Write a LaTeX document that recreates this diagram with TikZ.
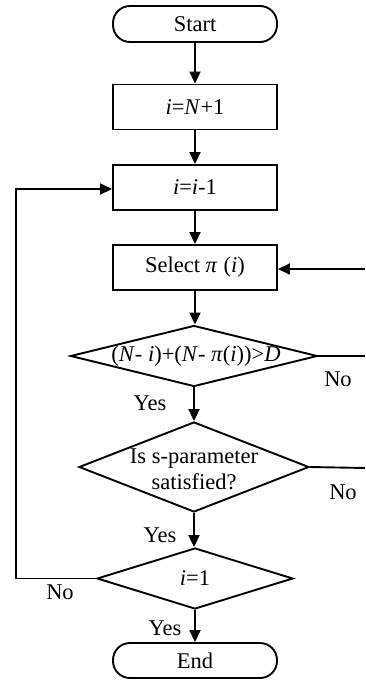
\documentclass[tikz,border=0pt]{standalone}
\usepackage{fontspec}
\setmainfont{Liberation Serif}
\usetikzlibrary{arrows.meta,shapes.geometric}
\tikzset{
  base/.style={draw, line width=1.9pt, font=\fontsize{22.5}{26}\selectfont, inner sep=0pt},
  term/.style={base, rectangle, rounded corners=17pt, minimum width=164pt, minimum height=36pt},
  proc/.style={base, rectangle, minimum width=164pt, minimum height=45pt},
  dec/.style={draw, line width=1.9pt, diamond, inner sep=0pt},
  txt/.style={font=\fontsize{22.5}{26}\selectfont, inner sep=0pt},
  conn/.style={line width=1.9pt},
  arr/.style={conn, -{Triangle[length=12pt,width=11pt]}}
}
\begin{document}
\begin{tikzpicture}[x=1pt,y=-1pt]
\useasboundingbox (0,0) rectangle (365,688);
\node[term] (start) at (195,24) {Start};
\node[proc] (init) at (195,107) {\textit{i}=\textit{N}+1};
\node[proc] (dec1) at (195,187.5) {\textit{i}=\textit{i}-1};
\node[proc] (sel) at (195,267.5) {Select \textit{π}\;(\textit{i})};
\node[dec, minimum width=247pt, minimum height=61pt] (d1) at (194,356) {};
\node[txt] (d1t) at (196,356) {(\textit{N}- \textit{i})+(\textit{N}- \textit{π}(\textit{i}))>\textit{D}};
\node[dec, minimum width=230pt, minimum height=90pt] (d2) at (194,467) {};
\node[txt, align=center] (d2t) at (194,469) {Is s-parameter\\[0pt]satisfied?};
\node[dec, minimum width=196pt, minimum height=61pt] (d3) at (195,578.5) {};
\node[txt] (d3t) at (195,578.5) {\textit{i}=1};
\node[term, minimum height=35pt] (end) at (195,660.5) {End};

\coordinate (r1) at (365,356);
\coordinate (r2) at (365,468);
\coordinate (r3) at (365,269);
\coordinate (l1) at (16,578.5);
\coordinate (l2) at (16,189);

\draw[arr] (start) -- (init);
\draw[arr] (init) -- (dec1);
\draw[arr] (dec1) -- (sel);
\draw[arr] (sel) -- (sel.south |- d1.north);
\draw[arr] (d1) -- (d1.south |- d2.north);
\draw[arr] (d2) -- (d2.south |- d3.north);
\draw[arr] (d3) -- (d3.south |- end.north);
\draw[conn] (d1.east) -- (r1);
\draw[conn] (d2.east) -- (r2);
\draw[arr] (r3) -- (sel.east |- r3);
\draw[arr] (d3.west) -- (l1) -- (l2) -- (dec1.west |- l2);

\node[txt] (no1) at (338,379) {No};
\node[txt] (yes1) at (150,403) {Yes};
\node[txt] (no2) at (343,492) {No};
\node[txt] (yes2) at (160,535) {Yes};
\node[txt] (no3) at (60,592) {No};
\node[txt] (yes3) at (165,628) {Yes};
\end{tikzpicture}
\end{document}
